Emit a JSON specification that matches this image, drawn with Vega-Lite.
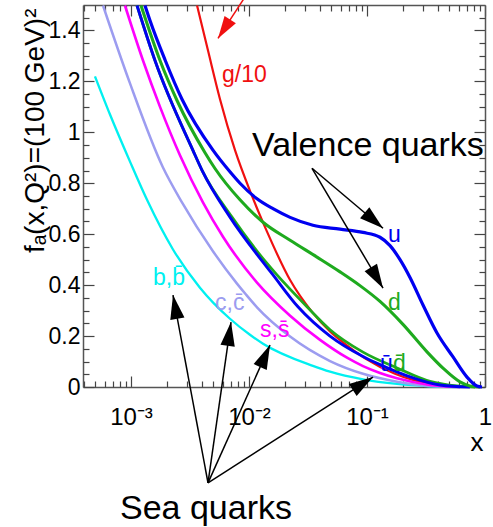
{
  "$schema": "https://vega.github.io/schema/vega-lite/v6.json",
  "width": 402,
  "height": 382,
  "autosize": {"type": "none"},
  "padding": {"left": 83, "top": 5, "right": 8, "bottom": 140},
  "background": "white",
  "config": {
    "view": {"stroke": null},
    "font": "Liberation Sans",
    "axis": {
      "grid": false,
      "domainColor": "#555555",
      "domainWidth": 1.5,
      "tickColor": "#444444",
      "tickWidth": 1.2,
      "labelFont": "Liberation Sans",
      "labelFontSize": 23,
      "labelColor": "black",
      "labelFlush": false,
      "labelOverlap": false,
      "titleFont": "Liberation Sans",
      "titleFontWeight": "normal",
      "titleColor": "black"
    }
  },
  "datasets": {
    "curves": [
      {"pdf": "g/10", "x": 0.00363, "f": 1.498},
      {"pdf": "g/10", "x": 0.0045, "f": 1.32},
      {"pdf": "g/10", "x": 0.00568, "f": 1.13},
      {"pdf": "g/10", "x": 0.00761, "f": 0.93},
      {"pdf": "g/10", "x": 0.0104, "f": 0.76},
      {"pdf": "g/10", "x": 0.01421, "f": 0.61},
      {"pdf": "g/10", "x": 0.0223, "f": 0.42},
      {"pdf": "g/10", "x": 0.0342, "f": 0.295},
      {"pdf": "g/10", "x": 0.0486, "f": 0.218},
      {"pdf": "g/10", "x": 0.0626, "f": 0.175},
      {"pdf": "g/10", "x": 0.0962, "f": 0.113},
      {"pdf": "g/10", "x": 0.1727, "f": 0.052},
      {"pdf": "g/10", "x": 0.342, "f": 0.012},
      {"pdf": "g/10", "x": 0.614, "f": 0.0},

      {"pdf": "b", "x": 0.000495, "f": 1.22},
      {"pdf": "b", "x": 0.000664, "f": 1.07},
      {"pdf": "b", "x": 0.000981, "f": 0.885},
      {"pdf": "b", "x": 0.001367, "f": 0.735},
      {"pdf": "b", "x": 0.00227, "f": 0.54},
      {"pdf": "b", "x": 0.00384, "f": 0.39},
      {"pdf": "b", "x": 0.0069, "f": 0.268},
      {"pdf": "b", "x": 0.01019, "f": 0.205},
      {"pdf": "b", "x": 0.01315, "f": 0.17},
      {"pdf": "b", "x": 0.0348, "f": 0.083},
      {"pdf": "b", "x": 0.0486, "f": 0.06},
      {"pdf": "b", "x": 0.0925, "f": 0.03},
      {"pdf": "b", "x": 0.1796, "f": 0.012},
      {"pdf": "b", "x": 0.342, "f": 0.003},
      {"pdf": "b", "x": 0.614, "f": 0.0},

      {"pdf": "c", "x": 0.000579, "f": 1.498},
      {"pdf": "c", "x": 0.000981, "f": 1.192},
      {"pdf": "c", "x": 0.001867, "f": 0.862},
      {"pdf": "c", "x": 0.002705, "f": 0.725},
      {"pdf": "c", "x": 0.00495, "f": 0.533},
      {"pdf": "c", "x": 0.00791, "f": 0.406},
      {"pdf": "c", "x": 0.00943, "f": 0.363},
      {"pdf": "c", "x": 0.01169, "f": 0.313},
      {"pdf": "c", "x": 0.0223, "f": 0.198},
      {"pdf": "c", "x": 0.0486, "f": 0.102},
      {"pdf": "c", "x": 0.0925, "f": 0.052},
      {"pdf": "c", "x": 0.1796, "f": 0.021},
      {"pdf": "c", "x": 0.342, "f": 0.004},
      {"pdf": "c", "x": 0.614, "f": 0.0},

      {"pdf": "s", "x": 0.000889, "f": 1.498},
      {"pdf": "s", "x": 0.001264, "f": 1.282},
      {"pdf": "s", "x": 0.001762, "f": 1.1},
      {"pdf": "s", "x": 0.0026, "f": 0.91},
      {"pdf": "s", "x": 0.00407, "f": 0.725},
      {"pdf": "s", "x": 0.00602, "f": 0.59},
      {"pdf": "s", "x": 0.01169, "f": 0.41},
      {"pdf": "s", "x": 0.0223, "f": 0.28},
      {"pdf": "s", "x": 0.04, "f": 0.185},
      {"pdf": "s", "x": 0.0677, "f": 0.115},
      {"pdf": "s", "x": 0.0925, "f": 0.082},
      {"pdf": "s", "x": 0.1289, "f": 0.055},
      {"pdf": "s", "x": 0.1796, "f": 0.034},
      {"pdf": "s", "x": 0.342, "f": 0.008},
      {"pdf": "s", "x": 0.614, "f": 0.0},

      {"pdf": "dbar", "x": 0.001125, "f": 1.498},
      {"pdf": "dbar", "x": 0.001597, "f": 1.282},
      {"pdf": "dbar", "x": 0.00335, "f": 0.929},
      {"pdf": "dbar", "x": 0.004, "f": 0.851},
      {"pdf": "dbar", "x": 0.00718, "f": 0.667},
      {"pdf": "dbar", "x": 0.01393, "f": 0.49},
      {"pdf": "dbar", "x": 0.01726, "f": 0.44},
      {"pdf": "dbar", "x": 0.031, "f": 0.315},
      {"pdf": "dbar", "x": 0.0486, "f": 0.225},
      {"pdf": "dbar", "x": 0.0925, "f": 0.137},
      {"pdf": "dbar", "x": 0.1796, "f": 0.075},
      {"pdf": "dbar", "x": 0.342, "f": 0.022},
      {"pdf": "dbar", "x": 0.579, "f": 0.004},
      {"pdf": "dbar", "x": 0.823, "f": 0.0},

      {"pdf": "ubar", "x": 0.001125, "f": 1.498},
      {"pdf": "ubar", "x": 0.001597, "f": 1.282},
      {"pdf": "ubar", "x": 0.00335, "f": 0.929},
      {"pdf": "ubar", "x": 0.004, "f": 0.851},
      {"pdf": "ubar", "x": 0.0069, "f": 0.667},
      {"pdf": "ubar", "x": 0.01315, "f": 0.49},
      {"pdf": "ubar", "x": 0.01567, "f": 0.445},
      {"pdf": "ubar", "x": 0.026, "f": 0.315},
      {"pdf": "ubar", "x": 0.0486, "f": 0.2},
      {"pdf": "ubar", "x": 0.0925, "f": 0.12},
      {"pdf": "ubar", "x": 0.1289, "f": 0.088},
      {"pdf": "ubar", "x": 0.2454, "f": 0.036},
      {"pdf": "ubar", "x": 0.4157, "f": 0.008},
      {"pdf": "ubar", "x": 0.746, "f": 0.0},

      {"pdf": "d", "x": 0.001216, "f": 1.498},
      {"pdf": "d", "x": 0.001762, "f": 1.282},
      {"pdf": "d", "x": 0.002455, "f": 1.125},
      {"pdf": "d", "x": 0.00424, "f": 0.92},
      {"pdf": "d", "x": 0.00515, "f": 0.858},
      {"pdf": "d", "x": 0.00839, "f": 0.735},
      {"pdf": "d", "x": 0.01315, "f": 0.647},
      {"pdf": "d", "x": 0.0223, "f": 0.576},
      {"pdf": "d", "x": 0.0377, "f": 0.51},
      {"pdf": "d", "x": 0.0591, "f": 0.452},
      {"pdf": "d", "x": 0.0872, "f": 0.398},
      {"pdf": "d", "x": 0.1289, "f": 0.336},
      {"pdf": "d", "x": 0.2018, "f": 0.246},
      {"pdf": "d", "x": 0.3224, "f": 0.138},
      {"pdf": "d", "x": 0.4406, "f": 0.074},
      {"pdf": "d", "x": 0.614, "f": 0.02},
      {"pdf": "d", "x": 0.746, "f": 0.004},
      {"pdf": "d", "x": 0.907, "f": 0.0},

      {"pdf": "u", "x": 0.001314, "f": 1.498},
      {"pdf": "u", "x": 0.001449, "f": 1.439},
      {"pdf": "u", "x": 0.001941, "f": 1.285},
      {"pdf": "u", "x": 0.002705, "f": 1.13},
      {"pdf": "u", "x": 0.00495, "f": 0.93},
      {"pdf": "u", "x": 0.0069, "f": 0.845},
      {"pdf": "u", "x": 0.00839, "f": 0.8},
      {"pdf": "u", "x": 0.01146, "f": 0.742},
      {"pdf": "u", "x": 0.01597, "f": 0.7},
      {"pdf": "u", "x": 0.0223, "f": 0.666},
      {"pdf": "u", "x": 0.0348, "f": 0.635},
      {"pdf": "u", "x": 0.0591, "f": 0.62},
      {"pdf": "u", "x": 0.0925, "f": 0.607},
      {"pdf": "u", "x": 0.1289, "f": 0.588},
      {"pdf": "u", "x": 0.1567, "f": 0.555},
      {"pdf": "u", "x": 0.1905, "f": 0.5},
      {"pdf": "u", "x": 0.2314, "f": 0.43},
      {"pdf": "u", "x": 0.2983, "f": 0.322},
      {"pdf": "u", "x": 0.392, "f": 0.212},
      {"pdf": "u", "x": 0.536, "f": 0.118},
      {"pdf": "u", "x": 0.704, "f": 0.039},
      {"pdf": "u", "x": 0.855, "f": 0.004},
      {"pdf": "u", "x": 0.943, "f": 0.0}
    ],
    "labels": [
      {"pdf": "g/10", "t": "g/10", "x": 0.0059, "y": 1.196},
      {"pdf": "u", "t": "u", "x": 0.1507, "y": 0.569},
      {"pdf": "d", "t": "d", "x": 0.1507, "y": 0.302},
      {"pdf": "ubar", "t": "\u016b", "x": 0.1289, "y": 0.063},
      {"pdf": "dbar", "t": "d\u0304", "x": 0.1661, "y": 0.063},
      {"pdf": "b", "t": "b,b\u0304", "x": 0.001535, "y": 0.4},
      {"pdf": "c", "t": "c,c\u0304", "x": 0.00515, "y": 0.302},
      {"pdf": "s", "t": "s,s\u0304", "x": 0.0124, "y": 0.196}
    ],
    "notes": [
      {"t": "Valence quarks", "x": 0.0106, "y": 0.906},
      {"t": "Sea quarks", "x": 0.000807, "y": -0.5176}
    ],
    "arrows": [
      {"x": 0.004494, "y": -0.3765, "x2": 0.00227, "y2": 0.3608, "angle": -10.5},
      {"x": 0.004494, "y": -0.3765, "x2": 0.00704, "y2": 0.2549, "angle": 8.1},
      {"x": 0.004494, "y": -0.3765, "x2": 0.01507, "y2": 0.1647, "angle": 24.2},
      {"x": 0.004494, "y": -0.3765, "x2": 0.1124, "y2": 0.0392, "angle": 57.3},
      {"x": 0.0342, "y": 0.8588, "x2": 0.1367, "y2": 0.6235, "angle": 130.2},
      {"x": 0.0342, "y": 0.8588, "x2": 0.1367, "y2": 0.3882, "angle": 149.4}
    ],
    "garrow": [
      {"x": 0.00907, "y": 1.5255, "x2": 0.00546, "y2": 1.3686, "angle": -147}
    ]
  },
  "layer": [
    {
      "data": {"name": "curves"},
      "mark": {"type": "line", "interpolate": "monotone"},
      "encoding": {
        "x": {
          "field": "x", "type": "quantitative",
          "scale": {"type": "log", "domain": [0.000392, 1], "nice": false},
          "axis": {
            "orient": "bottom",
            "values": [0.001, 0.01, 0.1, 1],
            "tickSize": -11,
            "labelPadding": 29,
            "labelFontSize": 24,
            "labelExpr": "datum.value < 0.005 ? '10\u207b\u00b3' : datum.value < 0.05 ? '10\u207b\u00b2' : datum.value < 0.5 ? '10\u207b\u00b9' : '1'",
            "title": "x",
            "titleFontSize": 26,
            "titleX": 400,
            "titleY": 63,
            "titleAlign": "right",
            "titleBaseline": "alphabetic"
          }
        },
        "y": {
          "field": "f", "type": "quantitative",
          "scale": {"domain": [0, 1.5], "nice": false, "zero": false},
          "axis": {
            "orient": "left",
            "values": [0, 0.2, 0.4, 0.6, 0.8, 1, 1.2, 1.4],
            "format": "~g",
            "tickSize": -11,
            "labelPadding": 14,
            "title": "f\u2090(x,Q\u00b2)=(100 GeV)\u00b2",
            "titleFontSize": 28,
            "titleAngle": -90,
            "titleX": -40,
            "titleY": 3,
            "titleAlign": "right",
            "titleBaseline": "alphabetic"
          }
        },
        "color": {
          "field": "pdf", "type": "nominal",
          "scale": {
            "domain": ["u", "d", "ubar", "dbar", "s", "c", "b", "g/10"],
            "range": ["#0000f0", "#1eaa1e", "#0000f0", "#1eaa1e", "#ff00ff", "#9c9cf0", "#00f0f0", "#f01010"]
          },
          "legend": null
        },
        "strokeWidth": {
          "field": "pdf", "type": "nominal",
          "scale": {
            "domain": ["u", "d", "ubar", "dbar", "s", "c", "b", "g/10"],
            "range": [3.2, 2.2, 2.2, 2.2, 3.6, 2.2, 2.2, 1.8]
          },
          "legend": null
        }
      }
    },
    {
      "data": {"name": "labels"},
      "mark": {"type": "text", "align": "left", "baseline": "alphabetic", "fontSize": 23, "font": "Liberation Sans"},
      "encoding": {
        "x": {
          "field": "x", "type": "quantitative",
          "scale": {"type": "log", "domain": [0.000392, 1], "nice": false},
          "axis": {
            "orient": "bottom",
            "values": [0.0004, 0.0005, 0.0006, 0.0007, 0.0008, 0.0009, 0.002, 0.003, 0.004, 0.005, 0.006, 0.007, 0.008, 0.009, 0.02, 0.03, 0.04, 0.05, 0.06, 0.07, 0.08, 0.09, 0.2, 0.3, 0.4, 0.5, 0.6, 0.7, 0.8, 0.9],
            "tickSize": -6, "labels": false, "domain": false, "title": null
          }
        },
        "y": {
          "field": "y", "type": "quantitative",
          "scale": {"domain": [0, 1.5], "nice": false, "zero": false},
          "axis": {
            "orient": "left",
            "values": [0.05, 0.1, 0.15, 0.25, 0.3, 0.35, 0.45, 0.5, 0.55, 0.65, 0.7, 0.75, 0.85, 0.9, 0.95, 1.05, 1.1, 1.15, 1.25, 1.3, 1.35, 1.45],
            "tickSize": -6, "labels": false, "domain": false, "title": null
          }
        },
        "text": {"field": "t"},
        "color": {"field": "pdf", "type": "nominal", "legend": null}
      }
    },
    {
      "data": {"name": "arrows"},
      "mark": {"type": "rule", "color": "black", "strokeWidth": 1.5},
      "encoding": {
        "x": {
          "field": "x", "type": "quantitative",
          "scale": {"type": "log", "domain": [0.000392, 1], "nice": false},
          "axis": {"orient": "top", "values": [0.001, 0.01, 0.1, 1], "tickSize": -11, "labels": false, "title": null}
        },
        "y": {
          "field": "y", "type": "quantitative",
          "scale": {"domain": [0, 1.5], "nice": false, "zero": false},
          "axis": {"orient": "right", "values": [0, 0.2, 0.4, 0.6, 0.8, 1, 1.2, 1.4], "tickSize": -11, "labels": false, "title": null}
        },
        "x2": {"field": "x2"},
        "y2": {"field": "y2"}
      }
    },
    {
      "data": {"name": "arrows"},
      "mark": {"type": "point", "shape": "M0,0L0.3,1L-0.3,1Z", "filled": true, "color": "black", "opacity": 1, "size": 2304},
      "encoding": {
        "x": {
          "field": "x2", "type": "quantitative",
          "scale": {"type": "log", "domain": [0.000392, 1], "nice": false},
          "axis": {
            "orient": "top",
            "values": [0.0004, 0.0005, 0.0006, 0.0007, 0.0008, 0.0009, 0.002, 0.003, 0.004, 0.005, 0.006, 0.007, 0.008, 0.009, 0.02, 0.03, 0.04, 0.05, 0.06, 0.07, 0.08, 0.09, 0.2, 0.3, 0.4, 0.5, 0.6, 0.7, 0.8, 0.9],
            "tickSize": -6, "labels": false, "domain": false, "title": null
          }
        },
        "y": {
          "field": "y2", "type": "quantitative",
          "scale": {"domain": [0, 1.5], "nice": false, "zero": false},
          "axis": {
            "orient": "right",
            "values": [0.05, 0.1, 0.15, 0.25, 0.3, 0.35, 0.45, 0.5, 0.55, 0.65, 0.7, 0.75, 0.85, 0.9, 0.95, 1.05, 1.1, 1.15, 1.25, 1.3, 1.35, 1.45],
            "tickSize": -6, "labels": false, "domain": false, "title": null
          }
        },
        "angle": {"field": "angle", "type": "quantitative", "scale": null}
      }
    },
    {
      "data": {"name": "garrow"},
      "mark": {"type": "rule", "color": "#f01010", "strokeWidth": 1.5},
      "encoding": {
        "x": {"field": "x", "type": "quantitative", "scale": {"type": "log", "domain": [0.000392, 1], "nice": false}, "axis": null},
        "y": {"field": "y", "type": "quantitative", "scale": {"domain": [0, 1.5], "nice": false, "zero": false}, "axis": null},
        "x2": {"field": "x2"},
        "y2": {"field": "y2"}
      }
    },
    {
      "data": {"name": "garrow"},
      "mark": {"type": "point", "shape": "M0,0L0.3,1L-0.3,1Z", "filled": true, "color": "#f01010", "opacity": 1, "size": 2025},
      "encoding": {
        "x": {"field": "x2", "type": "quantitative", "scale": {"type": "log", "domain": [0.000392, 1], "nice": false}, "axis": null},
        "y": {"field": "y2", "type": "quantitative", "scale": {"domain": [0, 1.5], "nice": false, "zero": false}, "axis": null},
        "angle": {"field": "angle", "type": "quantitative", "scale": null}
      }
    },
    {
      "data": {"name": "notes"},
      "mark": {"type": "text", "align": "left", "baseline": "alphabetic", "fontSize": 34, "font": "Liberation Sans", "color": "black"},
      "encoding": {
        "x": {"field": "x", "type": "quantitative", "scale": {"type": "log", "domain": [0.000392, 1], "nice": false}, "axis": null},
        "y": {"field": "y", "type": "quantitative", "scale": {"domain": [0, 1.5], "nice": false, "zero": false}, "axis": null},
        "text": {"field": "t"}
      }
    }
  ],
  "resolve": {"axis": {"x": "independent", "y": "independent"}}
}
